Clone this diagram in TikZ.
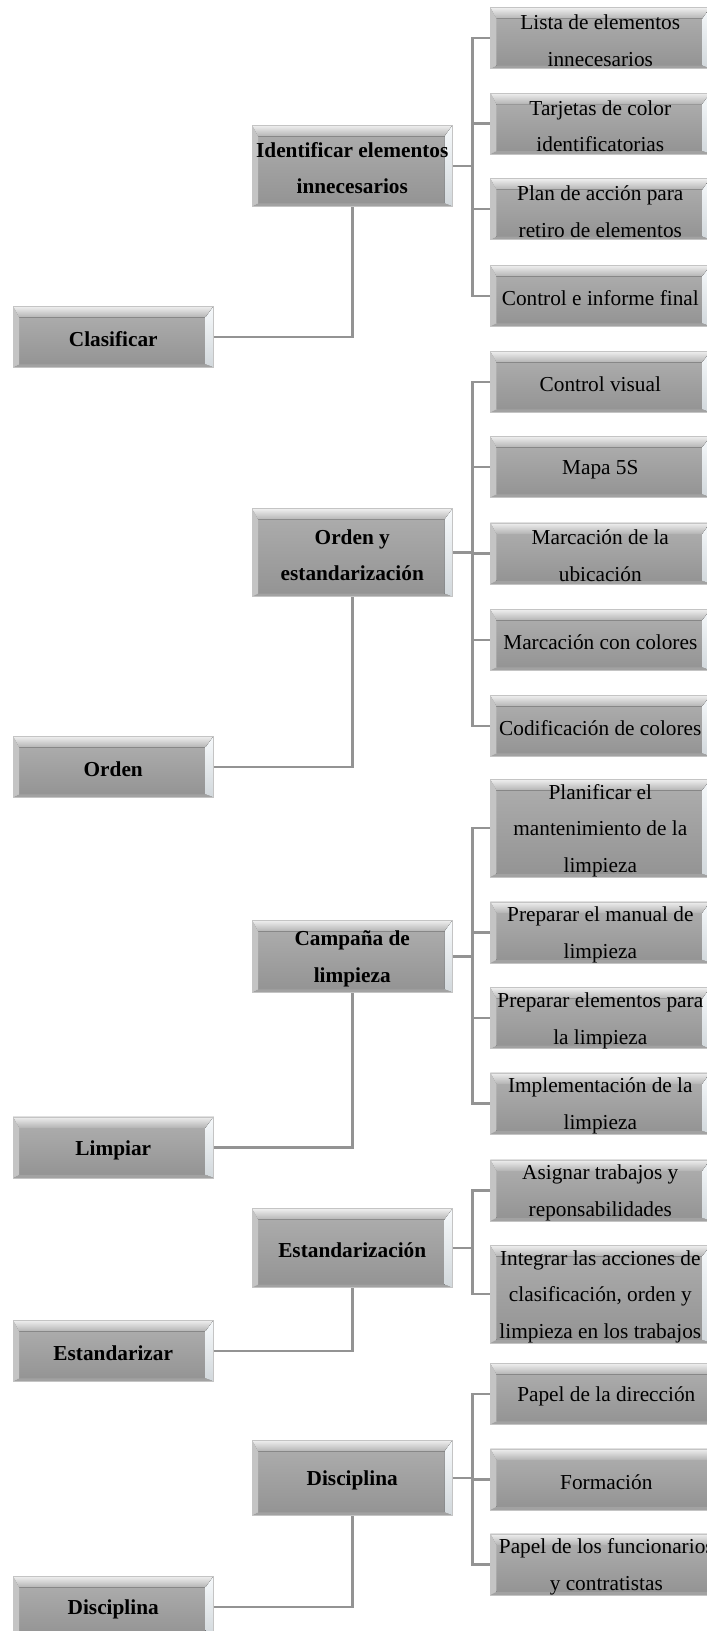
\documentclass[tikz,border=0pt]{standalone}
\usepackage{fontspec}
\setmainfont{Liberation Serif}
\usetikzlibrary{calc}

\definecolor{faceTop}{HTML}{ABABAB}
\definecolor{faceBot}{HTML}{949494}
\definecolor{bevTopHi}{HTML}{EFEFEF}
\definecolor{bevTopLo}{HTML}{B4B4B4}
\definecolor{bevLeft}{HTML}{C4C4C4}
\definecolor{bevRightHi}{HTML}{F6F9FB}
\definecolor{bevRightLo}{HTML}{D2D8DC}
\definecolor{bevBot}{HTML}{A2A2A2}
\definecolor{boxEdge}{HTML}{C4C4C4}
\definecolor{linkGray}{HTML}{939393}

% invisible rules that fix the height of the first line and the depth of the last
\newcommand\topstrut{\rule{0pt}{20pt}}
\newcommand\botstrut{\rule[-0.4pt]{0pt}{0.4pt}}
\newcommand\boxtext[1]{\topstrut#1\botstrut}

\tikzset{
  % raised grey box with angled bevel
  bevelbox/.style={
    rectangle, draw=boxEdge, line width=0.6pt, inner sep=0pt,
    anchor=north west, align=center,
    font=\fontsize{21.3pt}{36.5pt}\selectfont,
    path picture={
      \coordinate (bNW) at (path picture bounding box.north west);
      \coordinate (bNE) at (path picture bounding box.north east);
      \coordinate (bSW) at (path picture bounding box.south west);
      \coordinate (bSE) at (path picture bounding box.south east);
      \coordinate (iNW) at ($(bNW)+(6pt,-11pt)$);
      \coordinate (iNE) at ($(bNE)+(-8pt,-11pt)$);
      \coordinate (iSW) at ($(bSW)+(6pt,3pt)$);
      \coordinate (iSE) at ($(bSE)+(-8pt,3pt)$);
      \fill[top color=faceTop, bottom color=faceBot] (iNW) rectangle (iSE);
      \fill[top color=bevTopHi, bottom color=bevTopLo] (bNW) -- (bNE) -- (iNE) -- (iNW) -- cycle;
      \fill[bevLeft] (bNW) -- (iNW) -- (iSW) -- (bSW) -- cycle;
      \fill[top color=bevRightHi, bottom color=bevRightLo] (bNE) -- (iNE) -- (iSE) -- (bSE) -- cycle;
      \fill[bevBot] (bSW) -- (iSW) -- (iSE) -- (bSE) -- cycle;
    }
  },
  topbox/.style={bevelbox, minimum width=200.5pt, minimum height=61pt, font=\fontsize{21.3pt}{36.5pt}\selectfont\bfseries},
  midbox/.style={bevelbox, minimum width=200.5pt, font=\fontsize{21.3pt}{36.5pt}\selectfont\bfseries},
  leafbox/.style={bevelbox, minimum width=220pt, minimum height=61pt},
  tallleaf/.style={leafbox, minimum height=97pt},
  link/.style={draw=linkGray, line width=2.5pt},
}

\begin{document}
\begin{tikzpicture}[x=1pt, y=-1pt]
\path[use as bounding box, clip] (0,0) rectangle (707,1631);
\fill[white] (0,0) rectangle (707,1631);

% first level: the five S
\node[topbox] (L1) at (12.7,306)    {\boxtext{Clasificar}};
\node[topbox] (L2) at (12.7,736)    {\boxtext{Orden}};
\node[topbox] (L3) at (12.7,1116.5) {\boxtext{Limpiar}};
\node[topbox] (L4) at (12.7,1320)   {\boxtext{Estandarizar}};
\node[topbox] (L5) at (12.7,1576)   {\boxtext{Disciplina}};

% second level: actions
\node[midbox, minimum height=81pt] (M1) at (251.7,125)    {\boxtext{Identificar elementos\\innecesarios}};
\node[midbox, minimum height=88pt] (M2) at (251.7,508.3)  {\boxtext{Orden y\\estandarización}};
\node[midbox, minimum height=72pt] (M3) at (251.7,920)    {\boxtext{Campaña de\\limpieza}};
\node[midbox, minimum height=79pt] (M4) at (251.7,1208.3) {\boxtext{Estandarización}};
\node[midbox, minimum height=75pt] (M5) at (251.7,1440)   {\boxtext{Disciplina}};

% third level: tools
\node[leafbox]  (R1)  at (490,7.3)    {\boxtext{Lista de elementos\\innecesarios}};
\node[leafbox]  (R2)  at (490,92.7)   {\boxtext{Tarjetas de color\\identificatorias}};
\node[leafbox]  (R3)  at (490,178.3)  {\boxtext{Plan de acción para\\retiro de elementos}};
\node[leafbox]  (R4)  at (490,265)    {\boxtext{Control e informe final}};
\node[leafbox]  (R5)  at (490,351)    {\boxtext{Control visual}};
\node[leafbox]  (R6)  at (490,436)    {\boxtext{Mapa 5S}};
\node[leafbox]  (R7)  at (490,522.5)  {\boxtext{Marcación de la\\ubicación}};
\node[leafbox]  (R8)  at (490,609)    {\boxtext{Marcación con colores}};
\node[leafbox]  (R9)  at (490,695)    {\boxtext{Codificación de colores}};
\node[tallleaf] (R10) at (490,779)    {\boxtext{Planificar el\\mantenimiento de la\\limpieza}};
\node[leafbox]  (R11) at (490,901.5)  {\boxtext{Preparar el manual de\\limpieza}};
\node[leafbox]  (R12) at (490,987.3)  {\boxtext{Preparar elementos para\\la limpieza}};
\node[leafbox]  (R13) at (490,1072.5) {\boxtext{Implementación de la\\limpieza}};
\node[leafbox, minimum height=60pt] (R14) at (490,1159.5) {\boxtext{Asignar trabajos y\\reponsabilidades}};
\node[tallleaf] (R15) at (490,1245)   {\boxtext{Integrar las acciones de\\clasificación, orden y\\limpieza en los trabajos}};
\node[leafbox, minimum width=232pt] (R16) at (490,1363)   {\boxtext{Papel de la dirección}};
\node[leafbox, minimum width=232pt] (R17) at (490,1448.5) {\boxtext{Formación}};
\node[leafbox, minimum width=232pt] (R18) at (490,1533.5) {\boxtext{Papel de los funcionarios\\y contratistas}};

% first level to second level
\foreach \i in {1,...,5}{
  \draw[link] (L\i.east) -| (M\i.south);
}

% second level to third level, through a vertical bus
\foreach \m/\first/\last/\others in {1/1/4/{2,3}, 2/5/9/{6,7,8}, 3/10/13/{11,12}, 4/14/15/{}, 5/16/18/{17}}{
  \coordinate (bus\m) at ($(M\m.east)+(19.5pt,0)$);
  \draw[link] (M\m.east) -- (bus\m);
  \draw[link] (R\first.west) -- (R\first.west -| bus\m) -- (R\last.west -| bus\m) -- (R\last.west);
  \foreach \r in \others {
    \draw[link] (R\r.west -| bus\m) -- (R\r.west);
  }
}
\end{tikzpicture}
\end{document}
